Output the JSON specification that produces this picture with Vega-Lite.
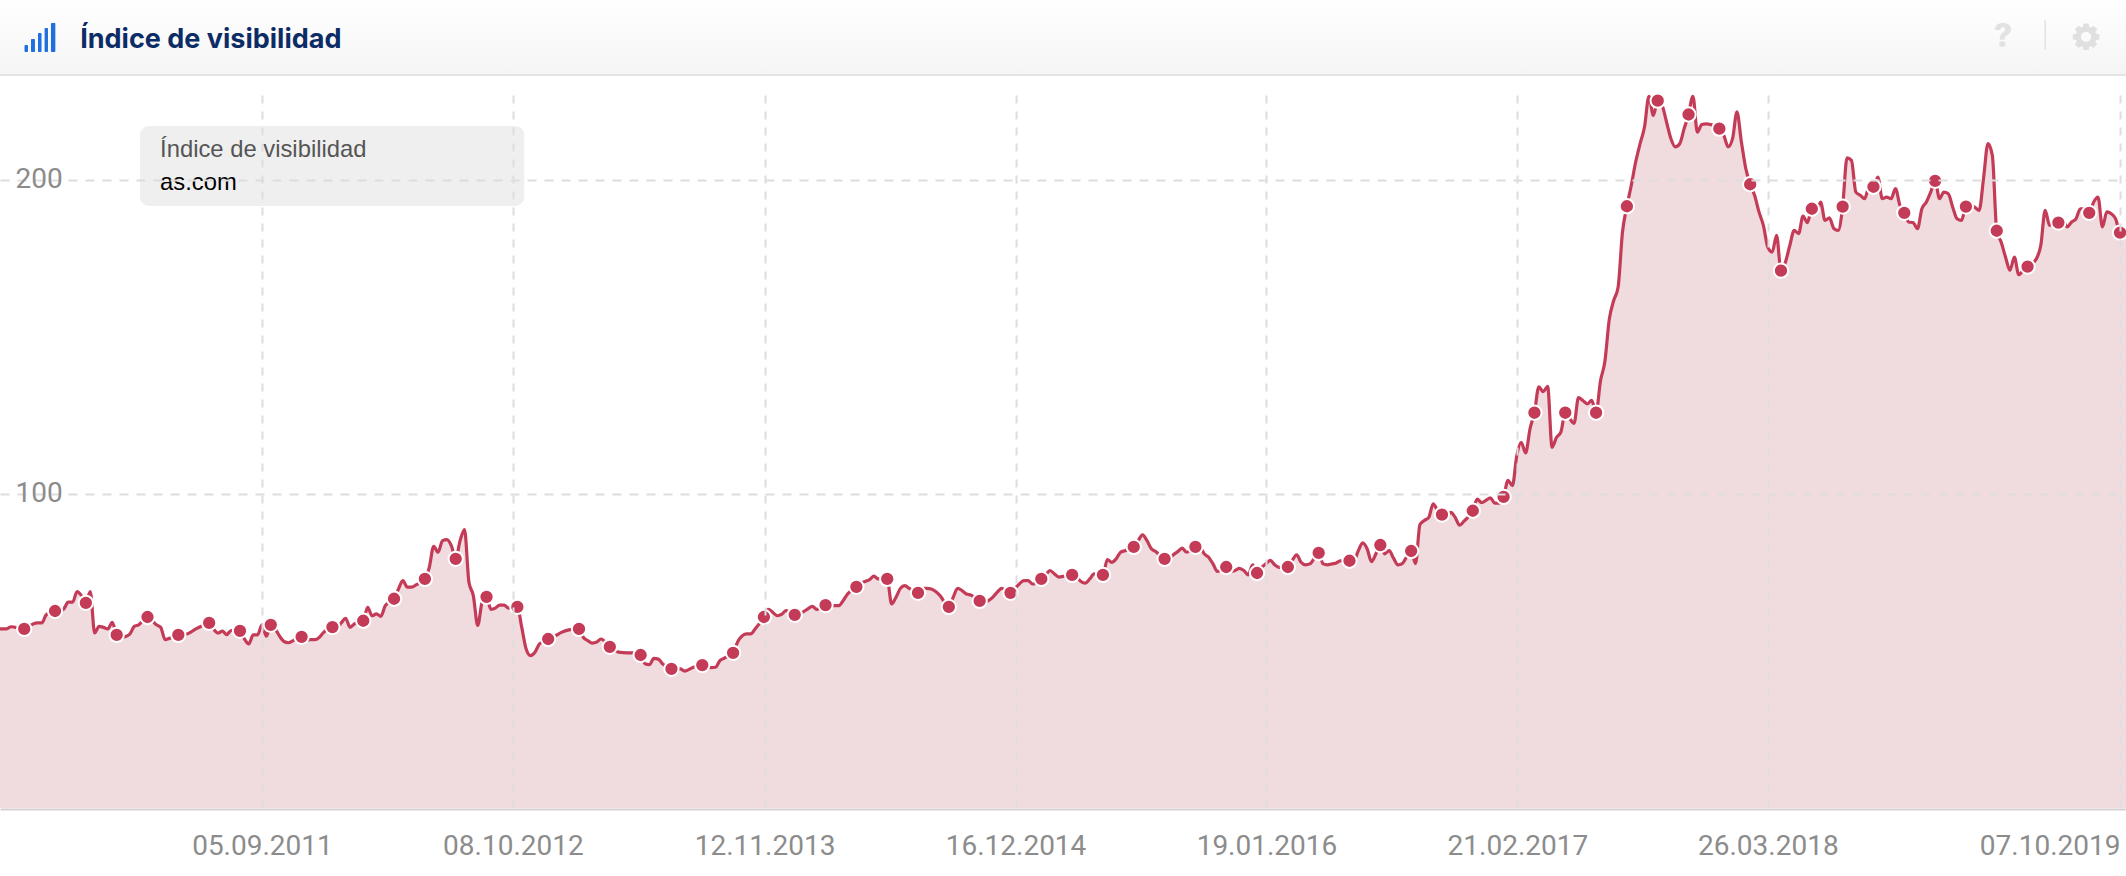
{"$schema":"https://vega.github.io/schema/vega-lite/v6.json","width":2126,"height":714,"autosize":"none","padding":{"left":0,"top":95,"right":0,"bottom":67},"background":"#ffffff","config":{"view":{"stroke":null}},
"datasets":{"s":[
{"d":"2010-07-12","v":57.0},{"d":"2010-07-26","v":57.0},{"d":"2010-08-02","v":57.7},{"d":"2010-08-23","v":57.0,"m":1},{"d":"2010-09-06","v":58.6},{"d":"2010-09-13","v":58.9},{"d":"2010-09-20","v":58.9},{"d":"2010-09-27","v":61.5},{"d":"2010-10-11","v":62.7,"m":1},{"d":"2010-10-18","v":62.6},{"d":"2010-10-25","v":63.4},{"d":"2010-11-01","v":65.5},{"d":"2010-11-08","v":65.5},{"d":"2010-11-15","v":68.9},{"d":"2010-11-22","v":67.6},{"d":"2010-11-29","v":65.3,"m":1},{"d":"2010-12-06","v":68.9},{"d":"2010-12-13","v":55.7},{"d":"2010-12-20","v":57.8},{"d":"2010-12-27","v":57.5},{"d":"2011-01-03","v":57.0},{"d":"2011-01-10","v":59.1},{"d":"2011-01-17","v":55.1,"m":1},{"d":"2011-01-24","v":54.3},{"d":"2011-01-31","v":54.6},{"d":"2011-02-07","v":55.4},{"d":"2011-02-14","v":57.8},{"d":"2011-02-21","v":58.3},{"d":"2011-03-07","v":60.8,"m":1},{"d":"2011-03-14","v":59.7},{"d":"2011-03-21","v":58.3},{"d":"2011-03-28","v":57.5},{"d":"2011-04-04","v":53.6},{"d":"2011-04-11","v":54.0},{"d":"2011-04-25","v":55.1,"m":1},{"d":"2011-05-09","v":55.4},{"d":"2011-05-23","v":57.0},{"d":"2011-05-30","v":57.7},{"d":"2011-06-13","v":58.9,"m":1},{"d":"2011-06-20","v":57.0},{"d":"2011-06-27","v":55.7},{"d":"2011-07-04","v":56.3},{"d":"2011-07-11","v":55.2},{"d":"2011-07-18","v":56.5},{"d":"2011-08-01","v":56.4,"m":1},{"d":"2011-08-08","v":53.8},{"d":"2011-08-15","v":52.2},{"d":"2011-08-22","v":55.1},{"d":"2011-08-29","v":55.1},{"d":"2011-09-05","v":58.3},{"d":"2011-09-12","v":54.7},{"d":"2011-09-19","v":58.3,"m":1},{"d":"2011-09-26","v":57.0},{"d":"2011-10-03","v":54.7},{"d":"2011-10-10","v":53.0},{"d":"2011-10-17","v":52.6},{"d":"2011-10-24","v":53.2},{"d":"2011-11-07","v":54.5,"m":1},{"d":"2011-11-14","v":53.4},{"d":"2011-11-21","v":53.6},{"d":"2011-11-28","v":53.6},{"d":"2011-12-05","v":54.3},{"d":"2011-12-12","v":55.9},{"d":"2011-12-26","v":57.6,"m":1},{"d":"2012-01-02","v":57.5},{"d":"2012-01-09","v":58.9},{"d":"2012-01-16","v":60.4},{"d":"2012-01-23","v":57.5},{"d":"2012-01-30","v":58.6},{"d":"2012-02-13","v":59.6,"m":1},{"d":"2012-02-20","v":63.9},{"d":"2012-02-27","v":61.2},{"d":"2012-03-05","v":61.8},{"d":"2012-03-12","v":61.0},{"d":"2012-03-19","v":64.4},{"d":"2012-04-02","v":66.6,"m":1},{"d":"2012-04-09","v":69.7},{"d":"2012-04-16","v":72.4},{"d":"2012-04-23","v":70.3},{"d":"2012-04-30","v":70.3},{"d":"2012-05-07","v":71.0},{"d":"2012-05-21","v":72.9,"m":1},{"d":"2012-05-28","v":76.6},{"d":"2012-06-04","v":83.3},{"d":"2012-06-11","v":81.4},{"d":"2012-06-18","v":85.1},{"d":"2012-06-25","v":85.4},{"d":"2012-07-02","v":83.5},{"d":"2012-07-09","v":79.3,"m":1},{"d":"2012-07-16","v":85.1},{"d":"2012-07-23","v":88.6},{"d":"2012-07-30","v":71.9},{"d":"2012-08-06","v":67.6},{"d":"2012-08-13","v":58.1},{"d":"2012-08-20","v":65.5},{"d":"2012-08-27","v":67.2,"m":1},{"d":"2012-09-03","v":63.2},{"d":"2012-09-10","v":63.6},{"d":"2012-09-17","v":64.6},{"d":"2012-09-24","v":64.6},{"d":"2012-10-01","v":63.6},{"d":"2012-10-15","v":64.0,"m":1},{"d":"2012-10-22","v":57.5},{"d":"2012-10-29","v":50.6},{"d":"2012-11-05","v":48.5},{"d":"2012-11-12","v":49.6},{"d":"2012-11-19","v":52.2},{"d":"2012-12-03","v":53.8,"m":1},{"d":"2012-12-10","v":54.3},{"d":"2012-12-17","v":55.1},{"d":"2012-12-24","v":55.9},{"d":"2013-01-07","v":56.8},{"d":"2013-01-21","v":57.0,"m":1},{"d":"2013-01-28","v":54.3},{"d":"2013-02-04","v":53.3},{"d":"2013-02-11","v":52.5},{"d":"2013-02-18","v":52.8},{"d":"2013-02-25","v":53.8},{"d":"2013-03-11","v":51.3,"m":1},{"d":"2013-03-25","v":49.6},{"d":"2013-04-08","v":49.4},{"d":"2013-04-22","v":49.4},{"d":"2013-04-29","v":48.7,"m":1},{"d":"2013-05-06","v":45.9},{"d":"2013-05-13","v":45.6},{"d":"2013-05-20","v":47.6},{"d":"2013-05-27","v":47.4},{"d":"2013-06-03","v":45.9},{"d":"2013-06-17","v":44.3,"m":1},{"d":"2013-07-01","v":44.3},{"d":"2013-07-08","v":43.6},{"d":"2013-07-22","v":44.8},{"d":"2013-08-05","v":45.5,"m":1},{"d":"2013-08-12","v":44.9},{"d":"2013-08-19","v":44.7},{"d":"2013-08-26","v":44.8},{"d":"2013-09-02","v":46.9},{"d":"2013-09-09","v":47.7},{"d":"2013-09-23","v":49.4,"m":1},{"d":"2013-09-30","v":52.8},{"d":"2013-10-07","v":54.7},{"d":"2013-10-14","v":55.4},{"d":"2013-10-21","v":55.4},{"d":"2013-10-28","v":57.0},{"d":"2013-11-11","v":60.8,"m":1},{"d":"2013-11-18","v":63.2},{"d":"2013-11-25","v":62.3},{"d":"2013-12-02","v":61.2},{"d":"2013-12-09","v":61.6},{"d":"2013-12-16","v":62.8},{"d":"2013-12-30","v":61.5,"m":1},{"d":"2014-01-13","v":62.5},{"d":"2014-01-20","v":63.4},{"d":"2014-01-27","v":64.2},{"d":"2014-02-03","v":63.2},{"d":"2014-02-17","v":64.6,"m":1},{"d":"2014-02-24","v":64.2},{"d":"2014-03-03","v":64.4},{"d":"2014-03-10","v":64.4},{"d":"2014-03-17","v":66.0},{"d":"2014-03-24","v":68.1},{"d":"2014-04-07","v":70.4,"m":1},{"d":"2014-04-14","v":71.6},{"d":"2014-04-21","v":72.1},{"d":"2014-04-28","v":72.7},{"d":"2014-05-05","v":73.8},{"d":"2014-05-12","v":72.9},{"d":"2014-05-26","v":72.9,"m":1},{"d":"2014-06-02","v":65.0},{"d":"2014-06-09","v":67.1},{"d":"2014-06-16","v":69.9},{"d":"2014-06-23","v":70.8},{"d":"2014-06-30","v":69.9},{"d":"2014-07-14","v":68.5,"m":1},{"d":"2014-07-21","v":69.9},{"d":"2014-07-28","v":69.9},{"d":"2014-08-04","v":69.7},{"d":"2014-08-11","v":68.9},{"d":"2014-08-18","v":67.6},{"d":"2014-09-01","v":64.0,"m":1},{"d":"2014-09-08","v":67.1},{"d":"2014-09-15","v":69.9},{"d":"2014-09-22","v":69.2},{"d":"2014-09-29","v":68.1},{"d":"2014-10-06","v":67.8},{"d":"2014-10-20","v":65.9,"m":1},{"d":"2014-10-27","v":65.5},{"d":"2014-11-03","v":66.0},{"d":"2014-11-10","v":67.1},{"d":"2014-11-17","v":68.7},{"d":"2014-11-24","v":69.9},{"d":"2014-12-08","v":68.5,"m":1},{"d":"2014-12-15","v":69.9},{"d":"2014-12-22","v":71.3},{"d":"2014-12-29","v":72.4},{"d":"2015-01-05","v":72.4},{"d":"2015-01-12","v":71.3},{"d":"2015-01-26","v":72.9,"m":1},{"d":"2015-02-02","v":74.2},{"d":"2015-02-09","v":75.6},{"d":"2015-02-16","v":74.5},{"d":"2015-02-23","v":73.5},{"d":"2015-03-02","v":73.7},{"d":"2015-03-16","v":74.2,"m":1},{"d":"2015-03-23","v":73.5},{"d":"2015-03-30","v":72.1},{"d":"2015-04-06","v":71.6},{"d":"2015-04-13","v":72.9},{"d":"2015-04-20","v":74.5},{"d":"2015-05-04","v":74.2,"m":1},{"d":"2015-05-11","v":79.1},{"d":"2015-05-18","v":78.2},{"d":"2015-05-25","v":79.3},{"d":"2015-06-01","v":81.4},{"d":"2015-06-08","v":81.9},{"d":"2015-06-22","v":83.1,"m":1},{"d":"2015-06-29","v":85.1},{"d":"2015-07-06","v":86.9},{"d":"2015-07-13","v":85.1},{"d":"2015-07-20","v":82.5},{"d":"2015-07-27","v":81.6},{"d":"2015-08-10","v":79.3,"m":1},{"d":"2015-08-17","v":79.3},{"d":"2015-08-24","v":80.6},{"d":"2015-08-31","v":81.6},{"d":"2015-09-07","v":82.7},{"d":"2015-09-14","v":81.4},{"d":"2015-09-28","v":83.1,"m":1},{"d":"2015-10-05","v":83.0},{"d":"2015-10-12","v":80.9},{"d":"2015-10-19","v":79.8},{"d":"2015-10-26","v":77.7},{"d":"2015-11-02","v":75.3},{"d":"2015-11-16","v":76.7,"m":1},{"d":"2015-11-23","v":75.3},{"d":"2015-11-30","v":75.6},{"d":"2015-12-07","v":76.3},{"d":"2015-12-14","v":75.6},{"d":"2015-12-21","v":74.2},{"d":"2015-12-28","v":77.4},{"d":"2016-01-04","v":74.8,"m":1},{"d":"2016-01-11","v":76.6},{"d":"2016-01-18","v":77.7},{"d":"2016-01-25","v":78.8},{"d":"2016-02-01","v":77.4},{"d":"2016-02-08","v":76.6},{"d":"2016-02-22","v":76.7,"m":1},{"d":"2016-02-29","v":78.8},{"d":"2016-03-07","v":80.6},{"d":"2016-03-14","v":78.2},{"d":"2016-03-21","v":77.4},{"d":"2016-03-28","v":77.7},{"d":"2016-04-11","v":81.2,"m":1},{"d":"2016-04-18","v":77.7},{"d":"2016-04-25","v":77.4},{"d":"2016-05-02","v":77.7},{"d":"2016-05-09","v":78.0},{"d":"2016-05-16","v":78.7},{"d":"2016-05-30","v":78.7,"m":1},{"d":"2016-06-06","v":78.7},{"d":"2016-06-13","v":81.9},{"d":"2016-06-20","v":84.4},{"d":"2016-06-27","v":82.5},{"d":"2016-07-04","v":78.4},{"d":"2016-07-11","v":80.9},{"d":"2016-07-18","v":83.7,"m":1},{"d":"2016-07-25","v":80.9},{"d":"2016-08-01","v":81.9},{"d":"2016-08-08","v":79.5},{"d":"2016-08-15","v":77.4},{"d":"2016-08-22","v":77.8},{"d":"2016-08-29","v":80.0},{"d":"2016-09-05","v":81.8,"m":1},{"d":"2016-09-12","v":77.8},{"d":"2016-09-19","v":90.2},{"d":"2016-09-26","v":91.5},{"d":"2016-10-03","v":92.5},{"d":"2016-10-10","v":96.8},{"d":"2016-10-17","v":94.7},{"d":"2016-10-24","v":93.4,"m":1},{"d":"2016-10-31","v":92.5},{"d":"2016-11-07","v":94.1},{"d":"2016-11-14","v":92.5},{"d":"2016-11-21","v":90.0},{"d":"2016-11-28","v":91.3},{"d":"2016-12-12","v":94.6,"m":1},{"d":"2016-12-19","v":98.3},{"d":"2016-12-26","v":97.2},{"d":"2017-01-02","v":97.9},{"d":"2017-01-09","v":98.7},{"d":"2017-01-16","v":97.0},{"d":"2017-01-23","v":97.0},{"d":"2017-01-30","v":99.0,"m":1},{"d":"2017-02-06","v":104.3},{"d":"2017-02-13","v":102.6},{"d":"2017-02-20","v":112.2},{"d":"2017-02-27","v":116.4},{"d":"2017-03-06","v":113.0},{"d":"2017-03-13","v":120.7},{"d":"2017-03-20","v":125.8,"m":1},{"d":"2017-03-27","v":134.0},{"d":"2017-04-03","v":132.5},{"d":"2017-04-10","v":134.2},{"d":"2017-04-17","v":114.8},{"d":"2017-04-24","v":117.9},{"d":"2017-05-01","v":119.6},{"d":"2017-05-08","v":125.8,"m":1},{"d":"2017-05-15","v":124.0},{"d":"2017-05-22","v":122.4},{"d":"2017-05-29","v":130.6},{"d":"2017-06-05","v":129.7},{"d":"2017-06-12","v":128.6},{"d":"2017-06-19","v":129.7},{"d":"2017-06-26","v":125.8,"m":1},{"d":"2017-07-03","v":135.9},{"d":"2017-07-10","v":142.1},{"d":"2017-07-17","v":155.5},{"d":"2017-07-24","v":161.5},{"d":"2017-07-31","v":165.7},{"d":"2017-08-07","v":183.3},{"d":"2017-08-14","v":191.5,"m":1},{"d":"2017-08-21","v":198.2},{"d":"2017-08-28","v":205.6},{"d":"2017-09-04","v":211.4},{"d":"2017-09-11","v":216.7},{"d":"2017-09-18","v":226.5},{"d":"2017-09-25","v":220.4},{"d":"2017-10-02","v":225.1,"m":1},{"d":"2017-10-09","v":223.6},{"d":"2017-10-16","v":218.3},{"d":"2017-10-23","v":213.0},{"d":"2017-10-30","v":210.4},{"d":"2017-11-06","v":211.4},{"d":"2017-11-13","v":216.2},{"d":"2017-11-20","v":220.7,"m":1},{"d":"2017-11-27","v":226.5},{"d":"2017-12-04","v":215.1},{"d":"2017-12-11","v":217.5},{"d":"2017-12-18","v":217.7},{"d":"2017-12-25","v":217.5},{"d":"2018-01-08","v":216.2,"m":1},{"d":"2018-01-15","v":214.1},{"d":"2018-01-22","v":210.4},{"d":"2018-01-29","v":213.0},{"d":"2018-02-05","v":221.5},{"d":"2018-02-12","v":212.0},{"d":"2018-02-19","v":203.5},{"d":"2018-02-26","v":198.5,"m":1},{"d":"2018-03-05","v":195.0},{"d":"2018-03-12","v":189.7},{"d":"2018-03-19","v":185.4},{"d":"2018-03-26","v":178.5},{"d":"2018-04-02","v":176.9},{"d":"2018-04-09","v":182.2},{"d":"2018-04-16","v":171.0,"m":1},{"d":"2018-04-23","v":173.7},{"d":"2018-04-30","v":179.0},{"d":"2018-05-07","v":183.8},{"d":"2018-05-14","v":182.8},{"d":"2018-05-21","v":188.4},{"d":"2018-05-28","v":186.3},{"d":"2018-06-04","v":190.7,"m":1},{"d":"2018-06-11","v":189.7},{"d":"2018-06-18","v":192.8},{"d":"2018-06-25","v":187.0},{"d":"2018-07-02","v":187.8},{"d":"2018-07-09","v":184.4},{"d":"2018-07-16","v":183.8},{"d":"2018-07-23","v":191.4,"m":1},{"d":"2018-07-30","v":206.9},{"d":"2018-08-06","v":206.1},{"d":"2018-08-13","v":196.0},{"d":"2018-08-20","v":195.0},{"d":"2018-08-27","v":193.9},{"d":"2018-09-03","v":197.6},{"d":"2018-09-10","v":197.7,"m":1},{"d":"2018-09-17","v":200.8},{"d":"2018-09-24","v":193.9},{"d":"2018-10-01","v":194.4},{"d":"2018-10-08","v":193.9},{"d":"2018-10-15","v":197.1},{"d":"2018-10-22","v":191.8},{"d":"2018-10-29","v":189.4,"m":1},{"d":"2018-11-05","v":186.5},{"d":"2018-11-12","v":186.3},{"d":"2018-11-19","v":184.4},{"d":"2018-11-26","v":190.7},{"d":"2018-12-03","v":192.8},{"d":"2018-12-10","v":196.0},{"d":"2018-12-17","v":199.6,"m":1},{"d":"2018-12-24","v":193.9},{"d":"2018-12-31","v":196.0},{"d":"2019-01-07","v":195.5},{"d":"2019-01-14","v":191.2},{"d":"2019-01-21","v":187.5},{"d":"2019-01-28","v":187.0},{"d":"2019-02-04","v":191.4,"m":1},{"d":"2019-02-11","v":191.8},{"d":"2019-02-18","v":191.2},{"d":"2019-02-25","v":190.2},{"d":"2019-03-04","v":200.3},{"d":"2019-03-11","v":211.4},{"d":"2019-03-18","v":207.7},{"d":"2019-03-25","v":183.7,"m":1},{"d":"2019-04-01","v":180.1},{"d":"2019-04-08","v":175.3},{"d":"2019-04-15","v":171.1},{"d":"2019-04-22","v":175.3},{"d":"2019-04-29","v":169.7},{"d":"2019-05-06","v":171.1},{"d":"2019-05-13","v":172.3,"m":1},{"d":"2019-05-20","v":173.2},{"d":"2019-05-27","v":174.8},{"d":"2019-06-03","v":179.0},{"d":"2019-06-10","v":190.2},{"d":"2019-06-17","v":185.4},{"d":"2019-06-24","v":186.5},{"d":"2019-07-01","v":186.3,"m":1},{"d":"2019-07-08","v":187.0},{"d":"2019-07-15","v":184.9},{"d":"2019-07-22","v":186.5},{"d":"2019-07-29","v":187.5},{"d":"2019-08-05","v":190.7},{"d":"2019-08-12","v":190.7},{"d":"2019-08-19","v":189.4,"m":1},{"d":"2019-08-26","v":192.8},{"d":"2019-09-02","v":194.4},{"d":"2019-09-09","v":184.9},{"d":"2019-09-16","v":189.7},{"d":"2019-09-23","v":189.1},{"d":"2019-09-30","v":187.5},{"d":"2019-10-07","v":183.1,"m":1},{"d":"2019-10-16T12:00:00Z","v":183.0}
]},
"encoding":{
"x":{"field":"d","type":"temporal","title":null,"scale":{"type":"utc","domain":[{"year":2010,"month":7,"date":15,"hours":12,"utc":true},{"year":2019,"month":10,"date":16,"hours":12,"utc":true}]},
"axis":{"values":[{"year":2011,"month":9,"date":5,"utc":true},{"year":2012,"month":10,"date":8,"utc":true},{"year":2013,"month":11,"date":12,"utc":true},{"year":2014,"month":12,"date":16,"utc":true},{"year":2016,"month":1,"date":19,"utc":true},{"year":2017,"month":2,"date":21,"utc":true},{"year":2018,"month":3,"date":26,"utc":true},{"year":2019,"month":10,"date":7,"utc":true}],"format":"%d.%m.%Y","labelFont":"Roboto","labelFontSize":28,"labelColor":"#8c8c8c","labelPadding":23,"labelFlush":10,"labelOverlap":false,"ticks":false,"domainColor":"#d6cfd1","domainWidth":2,"grid":true,"gridColor":"#dddddd","gridWidth":2,"gridDash":[8,8],"zindex":1}},
"y":{"field":"v","type":"quantitative","title":null,"scale":{"domain":[-0.3,226.9],"nice":false,"zero":false},
"axis":{"values":[100,200],"labelFont":"Roboto","labelFontSize":28,"labelColor":"#8c8c8c","labelAlign":"left","labelPadding":-15,"ticks":false,"domain":false,"grid":true,"gridColor":"#dddddd","gridWidth":2,"gridDash":[9,8],"zindex":1}}
},
"layer":[
{"data":{"values":[{"d":"2010-07-15T12:00:00Z","d2":"2019-10-16T12:00:00Z","v":257.13,"v2":233.58}]},"mark":{"type":"rect","fill":{"gradient":"linear","x1":0,"y1":0,"x2":0,"y2":1,"stops":[{"offset":0,"color":"#ffffff"},{"offset":1,"color":"#f5f5f5"}]}},"encoding":{"x2":{"field":"d2"},"y2":{"field":"v2"}}},
{"data":{"values":[{"d":"2010-07-15T12:00:00Z","d2":"2019-10-16T12:00:00Z","v":233.58,"v2":232.95}]},"mark":{"type":"rect","fill":"#e4e4e4"},"encoding":{"x2":{"field":"d2"},"y2":{"field":"v2"}}},
{"data":{"values":[{"d":"2010-08-23T12:00:00Z","d2":"2010-08-29T00:00:00Z","v":242.8,"v2":240.6},{"d":"2010-09-02T19:00:00Z","d2":"2010-09-09T02:00:00Z","v":244.7,"v2":240.6},{"d":"2010-09-13T22:00:00Z","d2":"2010-09-19T12:00:00Z","v":246.6,"v2":240.6},{"d":"2010-09-24T10:00:00Z","d2":"2010-09-29T19:00:00Z","v":248.2,"v2":240.6},{"d":"2010-10-04T12:00:00Z","d2":"2010-10-11T12:00:00Z","v":249.8,"v2":240.6}]},"mark":{"type":"rect","fill":"#1f6fdc","cornerRadius":1},"encoding":{"x2":{"field":"d2"},"y2":{"field":"v2"}}},
{"data":{"values":[{"d":"2010-11-20","v":244.4,"t":"Índice de visibilidad"}]},"mark":{"type":"text","align":"left","baseline":"middle","font":"Inter","fontWeight":700,"fontSize":27,"fill":"#0c2c66"},"encoding":{"text":{"field":"t"}}},
{"data":{"values":[{"d":"2010-08-03","d2":"2010-11-04","v":198.5,"v2":201.5},{"d":"2010-08-03","d2":"2010-11-04","v":98.5,"v2":101.5}]},"mark":{"type":"rect","fill":"#ffffff"},"encoding":{"x2":{"field":"d2"},"y2":{"field":"v2"}}},
{"data":{"name":"s"},"mark":{"type":"area","interpolate":"monotone","fill":"#ac3d4d","opacity":0.18}},
{"data":{"name":"s"},"mark":{"type":"line","interpolate":"monotone","stroke":"#c43b58","strokeWidth":3.2}},
{"data":{"name":"s"},"transform":[{"filter":"datum.m==1"}],"mark":{"type":"point","filled":true,"shape":"circle","size":205,"fill":"#c43b58","stroke":"#ffffff","strokeWidth":2,"opacity":1,"fillOpacity":1,"strokeOpacity":1}},
{"data":{"values":[{"d":"2011-02-23","d2":"2012-10-26","v":217.0,"v2":191.6}]},"mark":{"type":"rect","fill":"#ececec","fillOpacity":0.85,"cornerRadius":9},"encoding":{"x2":{"field":"d2"},"y2":{"field":"v2"}}},
{"data":{"values":[{"d":"2011-03-27","v":209.4,"t":"Índice de visibilidad"}]},"mark":{"type":"text","align":"left","baseline":"middle","font":"Liberation Sans","fontSize":23.8,"fill":"#555555"},"encoding":{"text":{"field":"t"}}},
{"data":{"values":[{"d":"2011-03-27","v":198.9,"t":"as.com"}]},"mark":{"type":"text","align":"left","baseline":"middle","font":"Liberation Sans","fontSize":23.8,"fill":"#000000"},"encoding":{"text":{"field":"t"}}},
{"data":{"values":[{"d":"2019-04-04","v":245.4,"t":"?"}]},"mark":{"type":"text","align":"center","baseline":"middle","font":"Inter","fontWeight":800,"fontSize":32,"fill":"#e2e2e2"},"encoding":{"text":{"field":"t"}}},
{"data":{"values":[{"d":"2019-06-10","v":250.8,"v2":241.2}]},"mark":{"type":"rule","stroke":"#e2e2e2","strokeWidth":1.5},"encoding":{"y2":{"field":"v2"}}},
{"data":{"values":[{"d":"2019-08-14","v":245.4}]},"mark":{"type":"point","filled":true,"size":729,"fill":"#e0e0e0","opacity":1,"shape":"M.746,-.228L.982,-.191L.982,.191L.746,.228L.689,.366L.829,.559L.559,.829L.366,.689L.228,.746L.191,.982L-.191,.982L-.228,.746L-.366,.689L-.559,.829L-.829,.559L-.689,.366L-.746,.228L-.982,.191L-.982,-.191L-.746,-.228L-.689,-.366L-.829,-.559L-.559,-.829L-.366,-.689L-.228,-.746L-.191,-.982L.191,-.982L.228,-.746L.366,-.689L.559,-.829L.829,-.559L.689,-.366ZM.38,0A.38,.38 0 1 0 -.38,0A.38,.38 0 1 0 .38,0Z"}}
]}
